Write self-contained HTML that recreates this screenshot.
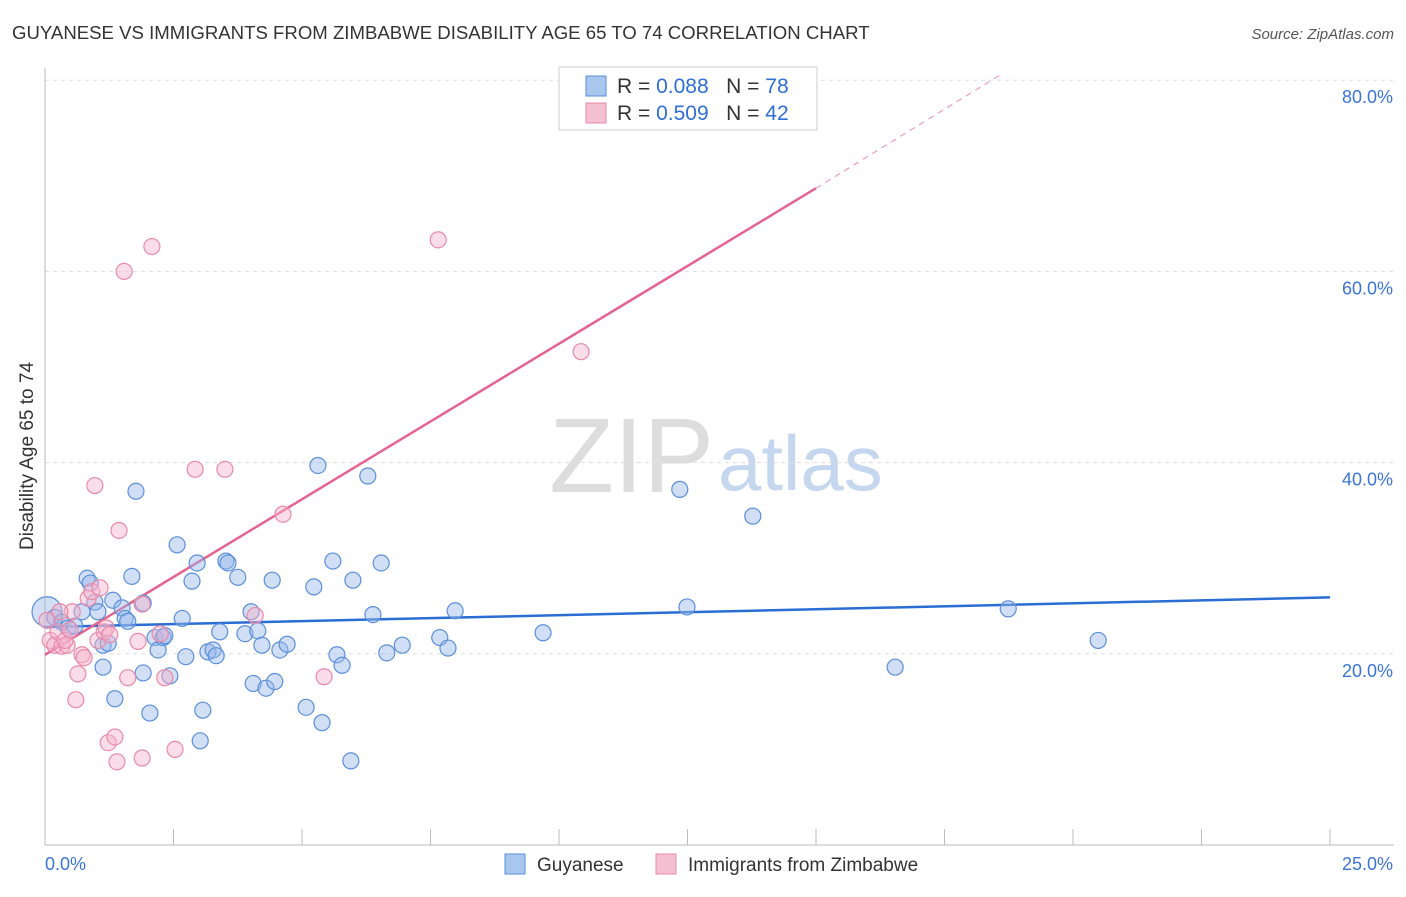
<!DOCTYPE html>
<html><head><meta charset="utf-8"><style>
body{margin:0;background:#fff;font-family:"Liberation Sans",sans-serif}
svg text{font-family:"Liberation Sans",sans-serif}
</style></head><body>
<svg id="chart" width="1406" height="892" xmlns="http://www.w3.org/2000/svg">
<text x="12" y="39" font-size="18.6" fill="#333">GUYANESE VS IMMIGRANTS FROM ZIMBABWE DISABILITY AGE 65 TO 74 CORRELATION CHART</text>
<text x="1394" y="39" font-size="15" fill="#555" font-style="italic" text-anchor="end">Source: ZipAtlas.com</text>
<text x="714" y="492" font-size="106" fill="#ddd" text-anchor="end" font-family="Liberation Serif">ZIP</text>
<text x="718" y="490" font-size="78" fill="#c5d7ef">atlas</text>
<text transform="translate(33,456) rotate(-90)" font-size="19" fill="#333" text-anchor="middle">Disability Age 65 to 74</text>
<g id="grid"></g><g id="axes"></g><g id="lines"></g><g id="pts"></g>
<g>
<rect x="559" y="67" width="258" height="63" fill="#fff" stroke="#ccc"/>
<rect x="586" y="76" width="20" height="20" fill="#a9c6ef" stroke="#5b8fd9"/>
<rect x="586" y="103" width="20" height="20" fill="#f5c0d2" stroke="#e88aa8"/>
<text x="617" y="93" font-size="21" fill="#333">R = <tspan fill="#2f6fd6">0.088</tspan>&#160;&#160;&#160;N = <tspan fill="#2f6fd6">78</tspan></text>
<text x="617" y="120" font-size="21" fill="#333">R = <tspan fill="#2f6fd6">0.509</tspan>&#160;&#160;&#160;N = <tspan fill="#2f6fd6">42</tspan></text>
</g>
<g>
<rect x="505" y="854" width="20" height="20" fill="#a9c6ef" stroke="#5b8fd9"/>
<text x="537" y="871" font-size="19" fill="#333">Guyanese</text>
<rect x="656" y="854" width="20" height="20" fill="#f5c0d2" stroke="#e88aa8"/>
<text x="688" y="871" font-size="19" fill="#333">Immigrants from Zimbabwe</text>
</g>
</svg>
<script>
const yTicks=[20,40,60,80];
const yTickLabels=["20.0%","40.0%","60.0%","80.0%"];
const xEndLabels=["0.0%","25.0%"];
const blueX=[0.04,0.19,0.33,0.45,0.58,0.72,0.82,0.88,0.97,1.03,1.13,1.13,1.23,1.32,1.36,1.50,1.56,1.61,1.69,1.77,1.91,1.91,2.04,2.14,2.20,2.30,2.33,2.43,2.57,2.67,2.74,2.86,2.96,3.02,3.07,3.17,3.27,3.33,3.40,3.52,3.56,3.75,3.89,4.01,4.05,4.14,4.22,4.30,4.42,4.47,4.57,4.71,5.08,5.23,5.31,5.39,5.60,5.68,5.78,5.95,5.99,6.28,6.38,6.54,6.65,6.95,7.68,7.84,7.98,9.69,12.35,12.49,13.77,16.54,18.74,20.49];
const blueY=[24.4,23.8,23.3,22.7,22.9,24.4,27.9,27.4,25.4,24.4,20.9,18.6,21.1,25.6,15.3,24.8,23.7,23.4,28.1,37.0,25.3,18.0,13.8,21.7,20.4,21.7,21.9,17.7,31.4,23.7,19.7,27.6,29.5,10.9,14.1,20.2,20.4,19.8,22.3,29.7,29.5,28.0,22.1,24.4,16.9,22.4,20.9,16.4,27.7,17.1,20.4,21.0,14.4,27.0,39.7,12.8,29.7,19.9,18.8,8.8,27.7,38.6,24.1,29.5,20.1,20.9,21.7,20.6,24.5,22.2,37.2,24.9,34.4,18.6,24.7,21.4];
const pinkX=[0.04,0.10,0.19,0.25,0.33,0.43,0.53,0.60,0.64,0.72,0.76,0.84,0.91,0.97,1.03,1.07,1.15,1.19,1.23,1.36,1.40,1.44,1.54,1.61,1.81,1.89,1.89,2.08,2.24,2.33,2.53,2.92,3.50,4.09,4.63,5.43,7.65,10.43,0.29,0.39,0.49,1.26];
const pinkY=[23.5,21.4,20.9,22.3,20.8,20.9,24.4,15.2,17.9,19.9,19.6,25.8,26.5,37.6,21.4,26.9,22.3,22.7,10.7,11.3,8.7,32.9,60.0,17.5,21.3,9.1,25.2,62.6,22.1,17.5,10.0,39.3,39.3,24.0,34.6,17.6,63.3,51.6,24.4,21.4,22.5,22.0];
const blueTrend=[22.8,25.9];
const pinkTrend=[19.9,68.7,80.6];
const pinkTrendX=[0,15,18.6];
const NS="http://www.w3.org/2000/svg";
const sx=v=>45+v*(1285/25);
const sy=v=>845-v*9.56;
function mk(tag,attrs,parent){const e=document.createElementNS(NS,tag);for(const k in attrs)e.setAttribute(k,attrs[k]);document.getElementById(parent).appendChild(e);return e;}
yTicks.forEach((t,i)=>{
 const g=mk('line',{x1:45,x2:1394,y1:sy(t),y2:sy(t),stroke:'#ddd','stroke-dasharray':'4,4'},'grid');
 
 
 const l=mk('text',{x:1393,y:sy(t)+23,'font-size':18,fill:'#3a75d6','text-anchor':'end'},'axes');
 l.textContent=yTickLabels[i];
 
 
});
const ya=mk('line',{x1:45,x2:45,y1:68,y2:845,stroke:'#bbb'},'axes');


const xa=mk('line',{x1:45,x2:1394,y1:845,y2:845,stroke:'#bbb'},'axes');


for(let i=0;i<=10;i++){const tk=mk('line',{x1:sx(i*2.5),x2:sx(i*2.5),y1:829,y2:845,stroke:'#bbb'},'axes');
 
 }
const x0=mk('text',{x:45,y:870,'font-size':18,fill:'#3a75d6'},'axes');x0.textContent=xEndLabels[0];


const x1=mk('text',{x:1393,y:870,'font-size':18,fill:'#3a75d6','text-anchor':'end'},'axes');x1.textContent=xEndLabels[1];


blueX.forEach((x,i)=>{const c=mk('circle',{cx:sx(x),cy:sy(blueY[i]),r:i===0?15:8,fill:'rgba(150,185,235,0.45)',stroke:'#5b8fd9','stroke-width':1.2},'pts');
 
 });
pinkX.forEach((x,i)=>{const c=mk('circle',{cx:sx(x),cy:sy(pinkY[i]),r:8,fill:'rgba(245,180,205,0.45)',stroke:'#e88aa8','stroke-width':1.2},'pts');
 
 });
const bl=mk('line',{x1:sx(0),y1:sy(blueTrend[0]),x2:sx(25),y2:sy(blueTrend[1]),stroke:'#2a6dd4','stroke-width':2.5},'lines');


const pl=mk('line',{x1:sx(pinkTrendX[0]),y1:sy(pinkTrend[0]),x2:sx(pinkTrendX[1]),y2:sy(pinkTrend[1]),stroke:'#e5638f','stroke-width':2.5},'lines');


const pd=mk('line',{x1:sx(pinkTrendX[1]),y1:sy(pinkTrend[1]),x2:sx(pinkTrendX[2]),y2:sy(pinkTrend[2]),stroke:'#eaa0b8','stroke-width':1.2,'stroke-dasharray':'6,5'},'lines');


</script>
</body></html>
